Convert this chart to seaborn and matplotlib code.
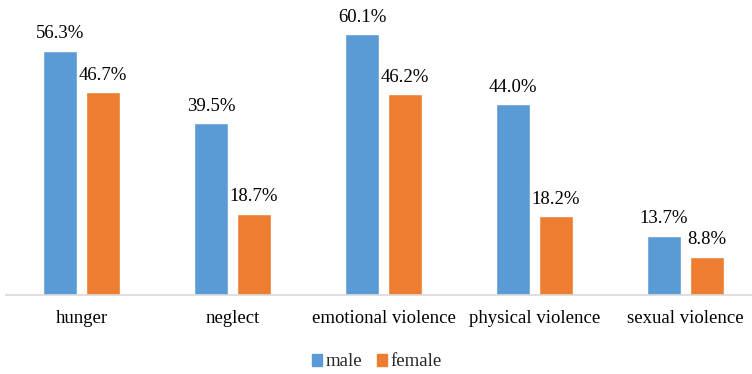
import matplotlib
matplotlib.use("Agg")
import matplotlib.pyplot as plt
import seaborn as sns
import pandas as pd

categories = ["hunger", "neglect", "emotional violence", "physical violence", "sexual violence"]
male = [56.3, 39.5, 60.1, 44.0, 13.7]
female = [46.7, 18.7, 46.2, 18.2, 8.8]
groups = ["male", "female"]
colors = {"male": "#5B9BD5", "female": "#ED7D31"}

df = pd.DataFrame({
    "category": categories * 2,
    "sex": ["male"] * len(categories) + ["female"] * len(categories),
    "value": male + female,
})

sns.set_theme(style="white")
plt.rcParams["font.family"] = ["Liberation Serif", "DejaVu Serif"]

fig = plt.figure(figsize=(7.52, 3.74), dpi=100)
ax = fig.add_axes([6 / 752, (374 - 295) / 374, 755 / 752, 261 * 64 / 60.1 / 374])

sns.barplot(data=df, x="category", y="value", hue="sex", hue_order=groups,
            palette=colors, width=0.57, gap=0.21, saturation=1,
            ax=ax, legend=False)

ax.set_ylim(0, 64)
ax.set_xlim(-0.5, 4.5)
for side in ["top", "right", "left"]:
    ax.spines[side].set_visible(False)
ax.spines["bottom"].set_color("#D9D9D9")
ax.spines["bottom"].set_linewidth(1.2)
ax.set_yticks([])
ax.set_xlabel("")
ax.set_ylabel("")
ax.tick_params(axis="x", length=0, pad=11, labelsize=13.5, colors="black")

for cont in ax.containers:
    ax.bar_label(cont, labels=[f"{v:.1f}%" for v in cont.datavalues],
                 padding=6, fontsize=13.5, color="black")

handles = [plt.Rectangle((0, 0), 1, 1, color=colors[g]) for g in groups]
fig.legend(handles, groups, loc="center", bbox_to_anchor=(377 / 752, 1 - 362 / 374),
           ncol=2, frameon=False, fontsize=13.5, handlelength=0.55, handleheight=0.55,
           handletextpad=0.2, columnspacing=0.75)

fig.savefig("out.png", dpi=100)
